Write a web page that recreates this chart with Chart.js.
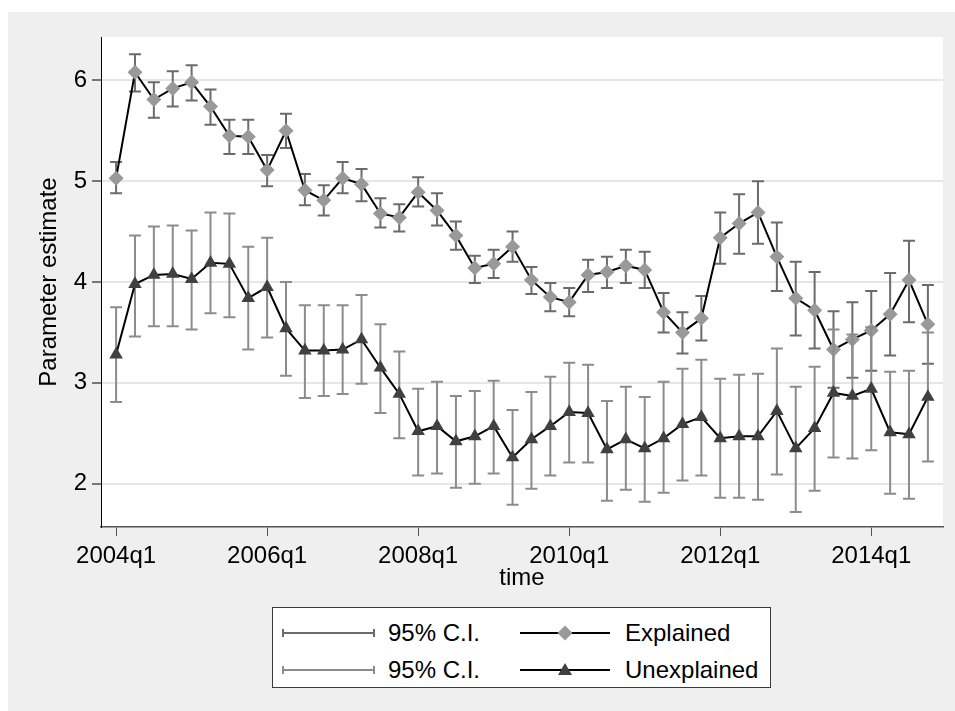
<!DOCTYPE html>
<html>
<head>
<meta charset="utf-8">
<script src="https://cdn.jsdelivr.net/npm/chart.js@4/dist/chart.umd.min.js"></script>
<style>
  html, body { margin: 0; padding: 0; background: #ffffff; }
  #wrap { position: relative; width: 955px; height: 711px; overflow: hidden; }
  #chart { position: absolute; left: 0; top: 0; }
  #legend {
    position: absolute; left: 272px; top: 607px; width: 497px; height: 79px;
    background: #ffffff; border: 1px solid #3a3a3a;
    font-family: "Liberation Sans", Arial, sans-serif; font-size: 24px; color: #000;
  }
  #legend svg { position: absolute; left: 0; top: 0; }
  #legend span { position: absolute; line-height: 28px; white-space: nowrap; }
</style>
</head>
<body>
<div id="wrap">
  <canvas id="chart" width="955" height="711"></canvas>
  <div id="legend">
    <svg width="497" height="79" viewBox="0 0 497 79">
      <!-- confidence-interval keys -->
      <g stroke="#6b6b6b" stroke-width="2">
        <line x1="10" y1="25" x2="101" y2="25"/>
        <line x1="10" y1="21" x2="10" y2="29"/>
        <line x1="101" y1="21" x2="101" y2="29"/>
      </g>
      <g stroke="#8c8c8c" stroke-width="2">
        <line x1="10" y1="62" x2="101" y2="62"/>
        <line x1="10" y1="58" x2="10" y2="66"/>
        <line x1="101" y1="58" x2="101" y2="66"/>
      </g>
      <!-- connected-line keys -->
      <line x1="247" y1="25" x2="337" y2="25" stroke="#000" stroke-width="2"/>
      <polygon points="284.5,25 292,17.5 299.5,25 292,32.5" fill="#999999"/>
      <line x1="247" y1="62" x2="337" y2="62" stroke="#000" stroke-width="2"/>
      <polygon points="292,55 299,67 285,67" fill="#404040"/>
    </svg>
    <span style="left:115px; top:11px;">95% C.I.</span>
    <span style="left:352px; top:11px;">Explained</span>
    <span style="left:115px; top:48px;">95% C.I.</span>
    <span style="left:352px; top:48px;">Unexplained</span>
  </div>
</div>
<script>
// Quarterly periods on the x axis
const quarters = [
  '2004q1','2004q2','2004q3','2004q4','2005q1','2005q2','2005q3','2005q4',
  '2006q1','2006q2','2006q3','2006q4','2007q1','2007q2','2007q3','2007q4',
  '2008q1','2008q2','2008q3','2008q4','2009q1','2009q2','2009q3','2009q4',
  '2010q1','2010q2','2010q3','2010q4','2011q1','2011q2','2011q3','2011q4',
  '2012q1','2012q2','2012q3','2012q4','2013q1','2013q2','2013q3','2013q4',
  '2014q1','2014q2','2014q3','2014q4'
];
const xTickLabels = ['2004q1','2006q1','2008q1','2010q1','2012q1','2014q1'];
const yTickValues = [2, 3, 4, 5, 6];

// Explained component: estimate and 95% confidence bounds
const explained = [5.03, 6.08, 5.81, 5.92, 5.98, 5.74, 5.45, 5.44, 5.11, 5.50,
  4.91, 4.81, 5.03, 4.97, 4.68, 4.64, 4.89, 4.71, 4.46, 4.14,
  4.18, 4.35, 4.02, 3.85, 3.80, 4.07, 4.10, 4.16, 4.12, 3.70,
  3.50, 3.64, 4.44, 4.58, 4.69, 4.25, 3.84, 3.72, 3.33, 3.43,
  3.52, 3.68, 4.02, 3.58];
const explainedHi = [5.19, 6.26, 5.98, 6.09, 6.15, 5.91, 5.61, 5.61, 5.26, 5.67,
  5.07, 4.96, 5.19, 5.12, 4.83, 4.77, 5.04, 4.88, 4.60, 4.26,
  4.32, 4.50, 4.15, 3.99, 3.94, 4.22, 4.25, 4.32, 4.30, 3.89,
  3.70, 3.86, 4.69, 4.87, 5.00, 4.59, 4.20, 4.10, 3.71, 3.80,
  3.91, 4.09, 4.41, 3.97];
const explainedLo = [4.88, 5.89, 5.63, 5.74, 5.80, 5.56, 5.27, 5.27, 4.95, 5.33,
  4.76, 4.66, 4.88, 4.80, 4.54, 4.50, 4.75, 4.56, 4.32, 3.99,
  4.04, 4.20, 3.88, 3.71, 3.66, 3.90, 3.94, 3.99, 3.94, 3.50,
  3.29, 3.42, 4.18, 4.28, 4.38, 3.91, 3.47, 3.34, 2.95, 3.05,
  3.12, 3.27, 3.60, 3.19];

// Unexplained component: estimate and 95% confidence bounds
const unexplained = [3.28, 3.98, 4.07, 4.08, 4.03, 4.19, 4.18, 3.84, 3.95, 3.54,
  3.32, 3.32, 3.33, 3.43, 3.15, 2.89, 2.52, 2.57, 2.42, 2.47,
  2.57, 2.26, 2.44, 2.57, 2.71, 2.70, 2.34, 2.44, 2.35, 2.45,
  2.59, 2.66, 2.45, 2.47, 2.47, 2.72, 2.35, 2.55, 2.90, 2.87,
  2.94, 2.51, 2.49, 2.86];
const unexplainedHi = [3.75, 4.46, 4.55, 4.56, 4.51, 4.69, 4.68, 4.35, 4.44, 4.00,
  3.77, 3.77, 3.77, 3.87, 3.58, 3.31, 2.94, 3.01, 2.87, 2.92,
  3.02, 2.73, 2.91, 3.06, 3.20, 3.18, 2.82, 2.96, 2.86, 3.01,
  3.14, 3.23, 3.04, 3.08, 3.09, 3.34, 2.96, 3.16, 3.53, 3.48,
  3.55, 3.11, 3.12, 3.50];
const unexplainedLo = [2.81, 3.46, 3.56, 3.56, 3.53, 3.69, 3.65, 3.33, 3.45, 3.07,
  2.85, 2.87, 2.89, 2.99, 2.70, 2.45, 2.08, 2.10, 1.96, 2.00,
  2.10, 1.79, 1.95, 2.08, 2.21, 2.21, 1.83, 1.94, 1.82, 1.91,
  2.03, 2.08, 1.86, 1.86, 1.84, 2.09, 1.72, 1.93, 2.26, 2.25,
  2.33, 1.90, 1.85, 2.22];

const toPoints = arr => arr.map((v, i) => ({ x: i, y: v }));

// Capped range bars, drawn just beneath the series they belong to
const ciSpecs = {
  0: { lo: explainedLo, hi: explainedHi, color: '#6b6b6b' },
  1: { lo: unexplainedLo, hi: unexplainedHi, color: '#8c8c8c' }
};
const ciBars = {
  id: 'ciBars',
  beforeDatasetDraw(chart, args) {
    const spec = ciSpecs[args.index];
    if (!spec) return;
    const { ctx, scales: { x, y } } = chart;
    ctx.save();
    ctx.strokeStyle = spec.color;
    ctx.lineWidth = 2;
    spec.lo.forEach((lo, i) => {
      const px = x.getPixelForValue(i);
      const pLo = y.getPixelForValue(lo);
      const pHi = y.getPixelForValue(spec.hi[i]);
      ctx.beginPath();
      ctx.moveTo(px, pLo); ctx.lineTo(px, pHi);
      ctx.moveTo(px - 6, pLo); ctx.lineTo(px + 6, pLo);
      ctx.moveTo(px - 6, pHi); ctx.lineTo(px + 6, pHi);
      ctx.stroke();
    });
    ctx.restore();
  }
};

// Grey outer panel with a white plot region
const panels = {
  id: 'panels',
  beforeDraw(chart) {
    const { ctx, chartArea: a } = chart;
    ctx.save();
    ctx.fillStyle = '#ffffff';
    ctx.fillRect(0, 0, chart.width, chart.height);
    ctx.fillStyle = '#efefef';
    ctx.fillRect(8, 12, chart.width - 8, chart.height - 12);
    ctx.fillStyle = '#ffffff';
    ctx.fillRect(a.left, a.top, a.right - a.left, a.bottom - a.top);
    ctx.restore();
  }
};

Chart.defaults.font.family = '"Liberation Sans", Arial, sans-serif';
Chart.defaults.font.size = 24;
Chart.defaults.color = '#000000';

new Chart(document.getElementById('chart'), {
  type: 'line',
  data: {
    datasets: [
      {
        label: 'Explained',
        data: toPoints(explained),
        order: 2,
        borderColor: '#000000',
        borderWidth: 2,
        pointStyle: 'rectRot',
        pointRadius: 7.5,
        pointBackgroundColor: '#999999',
        pointBorderWidth: 0,
        tension: 0
      },
      {
        label: 'Unexplained',
        data: toPoints(unexplained),
        order: 1,
        borderColor: '#000000',
        borderWidth: 2,
        pointStyle: 'triangle',
        pointRadius: 7.8,
        pointBackgroundColor: '#404040',
        pointBorderWidth: 0,
        tension: 0
      }
    ]
  },
  options: {
    responsive: false,
    devicePixelRatio: 1,
    animation: false,
    events: [],
    layout: { padding: { left: 8, top: 37, right: 12, bottom: 0 } },
    plugins: { legend: { display: false }, tooltip: { enabled: false } },
    scales: {
      x: {
        type: 'linear',
        min: -0.8,
        max: 43.8,
        afterFit(scale) { scale.height = 184; },
        afterBuildTicks(scale) {
          scale.ticks = xTickLabels.map(l => ({ value: quarters.indexOf(l) }));
        },
        ticks: {
          autoSkip: false,
          maxRotation: 0,
          padding: 6,
          callback: v => quarters[v]
        },
        grid: {
          drawOnChartArea: false,
          drawTicks: true,
          tickLength: 9,
          tickColor: '#555555',
          tickWidth: 1
        },
        border: { color: '#555555', width: 1.5 },
        title: { display: true, text: 'time', padding: { top: 0, bottom: 118 } }
      },
      y: {
        type: 'linear',
        min: 1.57,
        max: 6.43,
        afterFit(scale) { scale.width = 93; },
        afterBuildTicks(scale) {
          scale.ticks = yTickValues.map(v => ({ value: v }));
        },
        ticks: { padding: 5, includeBounds: false },
        grid: {
          color: '#e6e6e6',
          lineWidth: 2,
          tickLength: 9,
          tickColor: '#000000',
          tickWidth: 1
        },
        border: { color: '#000000', width: 1 },
        title: { display: true, text: 'Parameter estimate', padding: { top: 27, bottom: 0 } }
      }
    }
  },
  plugins: [panels, ciBars]
});
</script>
</body>
</html>
